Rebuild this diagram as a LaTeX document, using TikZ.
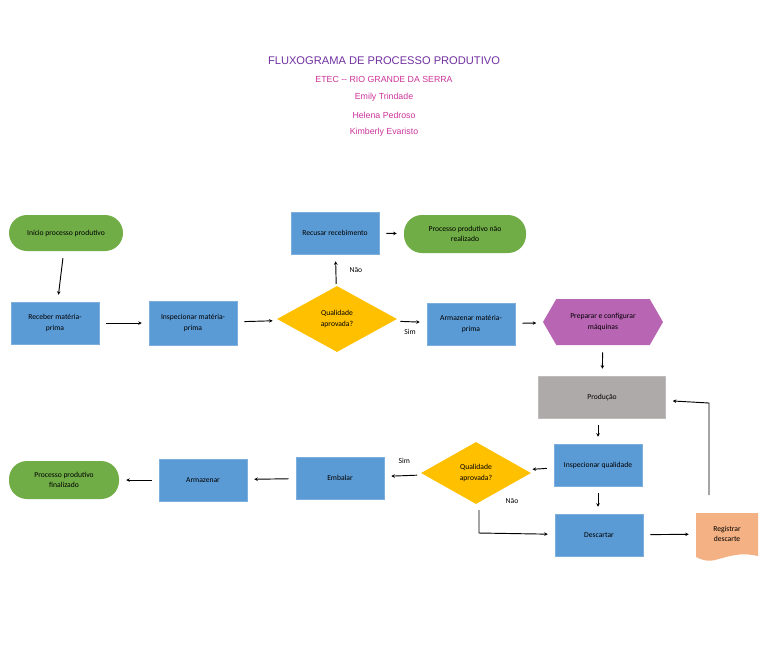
\documentclass[tikz,border=0pt]{standalone}
\usepackage{fontspec}
\setmainfont{Carlito}
\newfontfamily\titlefont{Liberation Sans}
\usetikzlibrary{shapes.geometric,shapes.symbols,arrows.meta}
\definecolor{fx-green}{HTML}{70AD47}
\definecolor{fx-blue}{HTML}{5B9BD5}
\definecolor{fx-yellow}{HTML}{FFC000}
\definecolor{fx-purple}{HTML}{B865B3}
\definecolor{fx-grey}{HTML}{AEAAAA}
\definecolor{fx-orange}{HTML}{F4B183}
\definecolor{fx-title}{HTML}{7030A0}
\definecolor{fx-sub}{HTML}{CC3399}

\tikzset{
  box/.style={minimum width=88*0.03cm,minimum height=42*0.03cm,fill=fx-blue,draw=fx-blue!80!white,align=center,font=\fontsize{6.5}{9}\selectfont},
  term/.style={box,fill=fx-green,draw=none,rounded corners=18*0.03cm,minimum height=38*0.03cm},
  decision/.style={diamond,aspect=1.8,fill=fx-yellow,inner sep=0pt,align=center,font=\fontsize{6.5}{9}\selectfont},
  flow/.style={-{Stealth[length=3pt,width=3pt]},line width=0.8pt,shorten >=6pt,shorten <=6pt},
  lbl/.style={font=\fontsize{6.5}{8}\selectfont}
}

\begin{document}
\begin{tikzpicture}[x=0.03cm,y=-0.03cm]
    \useasboundingbox (0,0) rectangle (768,659);

    % header
    \node[font=\titlefont\fontsize{9.5}{11}\selectfont,text=fx-title] (title) at (384,61) {FLUXOGRAMA DE PROCESSO PRODUTIVO};
    \node[font=\titlefont\fontsize{7.5}{9}\selectfont,text=fx-sub] (etec) at (384,79) {ETEC -- RIO GRANDE DA SERRA};
    \node[font=\titlefont\fontsize{7.5}{9}\selectfont,text=fx-sub] (emily) at (384,97) {Emily Trindade};
    \node[font=\titlefont\fontsize{7.5}{9}\selectfont,text=fx-sub] (helena) at (384,115) {Helena Pedroso};
    \node[font=\titlefont\fontsize{7.5}{9}\selectfont,text=fx-sub] (kimberly) at (384,132) {Kimberly Evaristo};

    % first row
    \node[term,minimum width=114*0.03cm,minimum height=36*0.03cm] (Inicio) at (66,233) {Início processo produtivo};
    \node[box] (Receber) at (55,323) {Receber matéria-\\prima};
    \node[box,minimum height=44*0.03cm] (InspecionarMP) at (193,323) {Inspecionar matéria-\\prima};
    \node[decision,minimum width=120*0.03cm,minimum height=66*0.03cm] (Qualidade_1) at (337,319) {Qualidade\\aprovada?};
    \node[box] (Recusar) at (335,233) {Recusar recebimento};
    \node[term,minimum width=122*0.03cm] (NaoRealizado) at (465,234) {Processo produtivo não\\realizado};
    \node[box] (ArmazenarMP) at (471,324) {Armazenar matéria-\\prima};
    \node[signal,signal to=east and west,signal pointer angle=120,fill=fx-purple,minimum width=120*0.03cm,minimum height=46*0.03cm,inner xsep=2pt,align=center,font=\fontsize{6.5}{9}\selectfont] (Preparar) at (603,322) {Preparar e configurar\\máquinas};

    % second part
    \node[box,fill=fx-grey,draw=fx-grey!80!white,minimum width=127*0.03cm] (Producao) at (602,397) {Produção};
    \node[box] (InspecionarQ) at (598,465) {Inspecionar qualidade};
    \node[decision,minimum width=110*0.03cm,minimum height=62*0.03cm] (Qualidade_2) at (476,473) {Qualidade\\aprovada?};
    \node[box] (Embalar) at (340,478) {Embalar};
    \node[box] (Armazenar) at (203,480) {Armazenar};
    \node[term,minimum width=110*0.03cm] (Finalizado) at (64,480) {Processo produtivo\\finalizado};
    \node[box] (Descartar) at (599,535) {Descartar};
    \fill[fx-orange] (696,513) -- (758,513) -- (758,556)
        .. controls (740,552) and (730,556) .. (715,560) .. controls (706,562) and (700,559) .. (696,557) -- cycle;
    \node[align=center,font=\fontsize{6.5}{9}\selectfont,minimum width=62*0.03cm,minimum height=46*0.03cm] (Registrar) at (727,534) {Registrar\\descarte};
    \coordinate (QNao) at (479,510);
    \coordinate (QCorner) at (479,533);
    \coordinate (RUp) at (709,495);
    \coordinate (RCorner) at (709,403);

    \draw[flow] (Inicio) -- (Receber);
    \draw[flow] (Receber) -- (InspecionarMP);
    \draw[flow] (InspecionarMP) -- (Qualidade_1);
    \draw[flow] (Qualidade_1) -- node[lbl,below=3pt] {Sim} (ArmazenarMP);
    \draw[flow,shorten <=2pt] (Qualidade_1) -- node[lbl,right=8pt] {Não} (Recusar);
    \draw[flow] (Recusar) -- (NaoRealizado);
    \draw[flow] (ArmazenarMP) -- (Preparar);
    \draw[flow] (Preparar) -- (Producao);
    \draw[flow] (Producao.south -| InspecionarQ) -- (InspecionarQ);
    \draw[flow] (InspecionarQ) -- (Qualidade_2);
    \draw[flow] (Qualidade_2) -- node[lbl,above=7pt] {Sim} (Embalar);
    \draw[flow] (Embalar) -- (Armazenar);
    \draw[flow] (Armazenar) -- (Finalizado);
    \draw[flow] (InspecionarQ) -- (InspecionarQ |- Descartar.north);
    \draw[flow,shorten <=0pt] (QNao) -- (QCorner) -- (Descartar);
    \node[lbl] (NaoLbl) at (512,501) {Não};
    \draw[flow] (Descartar) -- (Registrar);
    \draw[flow,shorten <=0pt] (RUp) -- (RCorner) -- (Producao);
\end{tikzpicture}
\end{document}
